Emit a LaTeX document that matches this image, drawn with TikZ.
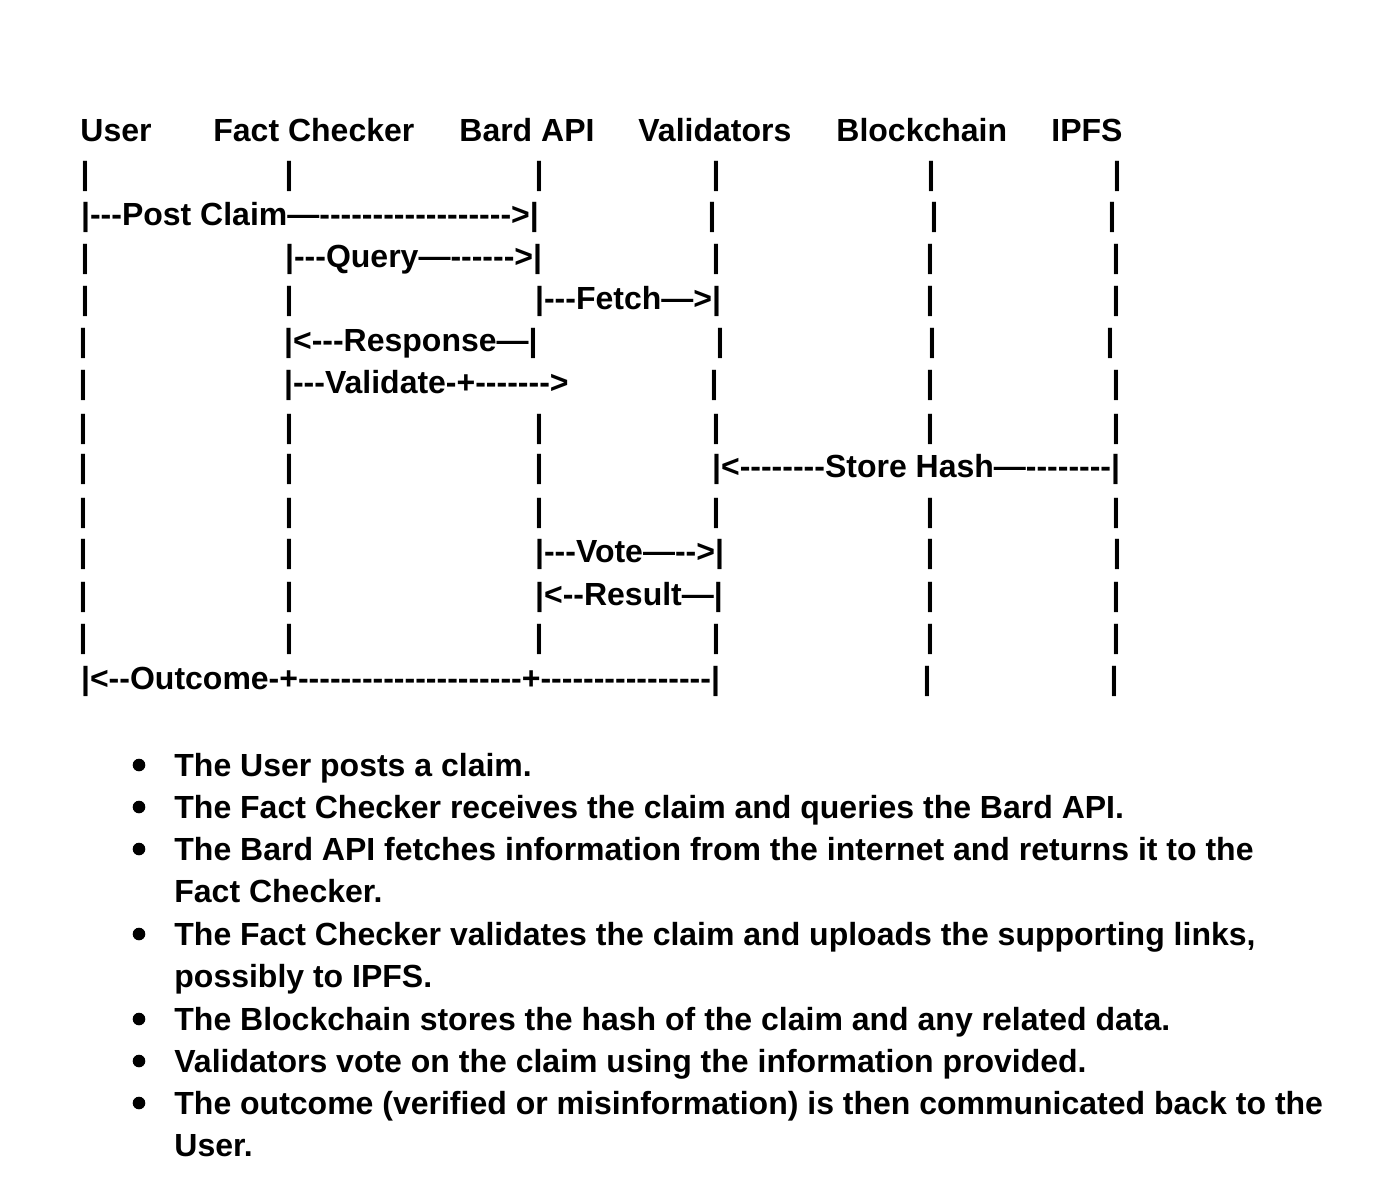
\documentclass[tikz,border=0pt]{standalone}
\usepackage{fontspec}
\setmainfont{Liberation Sans}[Ligatures=TeXOff]
\usetikzlibrary{positioning}
\tikzset{
	seq/.style={x=0.5pt,y=-0.5pt,font=\bfseries\fontsize{16}{19}\selectfont},
	actor/.style={anchor=base west,inner sep=0pt},
	bar/.style={anchor=base,inner sep=0pt},
	msg/.style={anchor=base west,inner sep=0pt},
	item/.style={anchor=base west,inner sep=0pt},
	dot/.style={circle,fill=black,inner sep=0pt,minimum size=6.3pt}
}

\begin{document}
\begin{tikzpicture}[seq]
	\useasboundingbox (0,0) rectangle (1376,1196);
	
	% actors
	\node[actor] (user) at (80,141) {User};
	\node[actor] (checker) at (213,141) {Fact Checker};
	\node[actor] (bard) at (459,141) {Bard API};
	\node[actor] (valid) at (638,141) {Validators};
	\node[actor] (chain) at (836,141) {Blockchain};
	\node[actor] (ipfs) at (1051,141) {IPFS};
	
	% plain rows
	\foreach \x [count=\i] in {85,289,539,716,931,1117}
		\node[bar] (ra\i) at (\x,184) {|};
	\foreach \r/\y in {g/437,i/521,l/647}
		\foreach \x [count=\i] in {83,289,539,716,930,1116}
			\node[bar] (r\r\i) at (\x,\y) {|};
	
	% messages
	\node[msg] (post) at (80.7,225) {|---Post Claim—------------------>|};
	\foreach \x [count=\i] in {712,934,1112}
		\node[bar] (rb\i) at (\x,225) {|};
	
	\node[bar] (rc1) at (85,267) {|};
	\node[msg] (query) at (284.7,267) {|---Query—------>|};
	\foreach \x [count=\i] in {716,930,1116}
		\node[bar] (rc\i) at (\x,267) {|};
	
	\node[bar] (rd1) at (85,309) {|};
	\node[bar] (rd2) at (289,309) {|};
	\node[msg] (fetch) at (534.7,309) {|---Fetch—>|};
	\node[bar] (rd3) at (930,309) {|};
	\node[bar] (rd4) at (1116,309) {|};
	
	\node[bar] (re1) at (83,351) {|};
	\node[msg] (response) at (283.7,351) {|<---Response—|};
	\foreach \x [count=\i] in {720,932,1110}
		\node[bar] (re\i) at (\x,351) {|};
	
	\node[bar] (rf1) at (83,393) {|};
	\node[msg] (validate) at (283.7,393) {|---Validate-+------->};
	\foreach \x [count=\i] in {714,930,1116}
		\node[bar] (rf\i) at (\x,393) {|};
	
	\foreach \x [count=\i] in {83,289,539}
		\node[bar] (rh\i) at (\x,477) {|};
	\node[msg] (store) at (711.7,477) {|<--------Store Hash—--------|};
	
	\node[bar] (rj1) at (83,562) {|};
	\node[bar] (rj2) at (289,562) {|};
	\node[msg] (vote) at (534.7,562) {|---Vote—-->|};
	\node[bar] (rj3) at (930,562) {|};
	\node[bar] (rj4) at (1117,562) {|};
	
	\node[bar] (rk1) at (83,605) {|};
	\node[bar] (rk2) at (289,605) {|};
	\node[msg] (result) at (534.7,605) {|<--Result—|};
	\node[bar] (rk3) at (930,605) {|};
	\node[bar] (rk4) at (1116,605) {|};
	
	\node[msg] (outcome) at (80.7,689) {|<--Outcome-+---------------------+----------------|};
	\node[bar] (rm1) at (927,689) {|};
	\node[bar] (rm2) at (1114,689) {|};
	
	% summary
	\foreach \y [count=\i] in {776,818,860,945,1030,1072,1114}
		\node[dot] (d\i) at (139,\y-11) {};
	\node[item] (t1) at (174,776) {The User posts a claim.};
	\node[item] (t2) at (174,818) {The Fact Checker receives the claim and queries the Bard API.};
	\node[item] (t3) at (174,860) {The Bard API fetches information from the internet and returns it to the};
	\node[item] (t3b) at (174,902) {Fact Checker.};
	\node[item] (t4) at (174,945) {The Fact Checker validates the claim and uploads the supporting links,};
	\node[item] (t4b) at (174,987) {possibly to IPFS.};
	\node[item] (t5) at (174,1030) {The Blockchain stores the hash of the claim and any related data.};
	\node[item] (t6) at (174,1072) {Validators vote on the claim using the information provided.};
	\node[item] (t7) at (174,1114) {The outcome (verified or misinformation) is then communicated back to the};
	\node[item] (t7b) at (174,1156) {User.};
\end{tikzpicture}
\end{document}
